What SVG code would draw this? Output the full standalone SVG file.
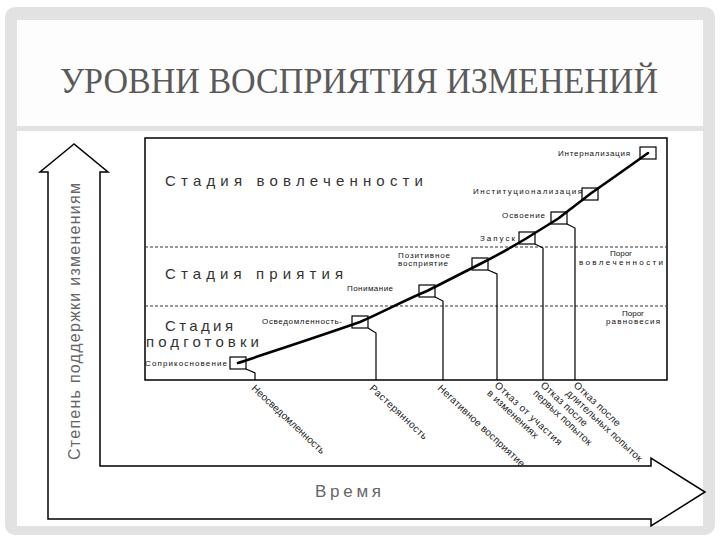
<svg xmlns="http://www.w3.org/2000/svg" width="720" height="540" viewBox="0 0 720 540">
<style>
.sans{font-family:"Liberation Sans",Arial,sans-serif}
.stage{font-family:"Liberation Sans",Arial,sans-serif;font-size:15px;fill:#333}
.lbl{font-family:"Liberation Sans",Arial,sans-serif;font-size:8px;fill:#111}
.rot{font-family:"Liberation Sans",Arial,sans-serif;font-size:10px;fill:#222}
.box{fill:#fff;stroke:#000;stroke-width:1.2}
.step{fill:none;stroke:#000;stroke-width:1.2}
.dash{stroke:#333;stroke-width:1;stroke-dasharray:3 2}
</style>
<rect x="0" y="0" width="720" height="540" fill="#fff"/>
<rect x="5" y="7" width="710" height="528" rx="10" fill="#e2e2e2"/>
<rect x="17" y="20" width="686" height="106" fill="#fdfdfd"/>
<rect x="17" y="131" width="686" height="395" fill="#fff"/>
<text x="60" y="93" font-family="'Liberation Serif','Times New Roman',serif" font-size="36" fill="#5a5a5a" textLength="598" lengthAdjust="spacingAndGlyphs">УРОВНИ ВОСПРИЯТИЯ ИЗМЕНЕНИЙ</text>

<g id="axes">
<path d="M74,144 L40,172 L48,172 L48,519 L651,519 L651,526 L705,492 L651,458 L651,466 L100,466 L100,172 L108,172 Z" fill="#fff" stroke="#000" stroke-width="1.5" stroke-linejoin="miter"/>
<text class="sans" transform="translate(80,460) rotate(-90)" font-size="16" fill="#666" textLength="277" lengthAdjust="spacing">Степень поддержки изменениям</text>
<text class="sans" x="315" y="497" font-size="17" fill="#666" textLength="66" lengthAdjust="spacing">Время</text>
</g>

<g id="chart">
<rect x="145" y="138" width="522" height="242" fill="#fff" stroke="#000" stroke-width="1.5"/>
<line class="dash" x1="145" y1="247" x2="667" y2="247"/>
<line class="dash" x1="145" y1="306" x2="667" y2="306"/>
<text class="stage" x="165" y="186" textLength="258" lengthAdjust="spacing">Стадия вовлеченности</text>
<text class="stage" x="165" y="279" textLength="178" lengthAdjust="spacing">Стадия приятия</text>
<text class="stage" x="165" y="331" font-size="14" textLength="68" lengthAdjust="spacing">Стадия</text>
<text class="stage" x="146" y="347" font-size="14" textLength="113" lengthAdjust="spacing">подготовки</text>
<text class="lbl" x="621" y="256" text-anchor="middle" font-size="10">Порог</text>
<text class="lbl" x="621" y="265" text-anchor="middle" font-size="9" textLength="84" lengthAdjust="spacing">вовлеченности</text>
<text class="lbl" x="633" y="316" text-anchor="middle">Порог</text>
<text class="lbl" x="633" y="324" text-anchor="middle" textLength="54" lengthAdjust="spacing">равновесия</text>
</g>

<g id="connectors">
<polyline class="step" points="246,369 255,373 255,380"/>
<polyline class="step" points="368,328 376,333 376,380"/>
<polyline class="step" points="435,297 443,301 443,380"/>
<polyline class="step" points="488,270 497,274 497,380"/>
<polyline class="step" points="535,244 543,248 543,380"/>
<polyline class="step" points="567,224 575,228 575,380"/>
</g>

<g id="n1"><rect class="box" x="230" y="357" width="16" height="12"/><text class="lbl" x="145" y="366" textLength="82" lengthAdjust="spacing">Соприкосновение</text></g>
<g id="n2"><rect class="box" x="352" y="316" width="16" height="12"/><text class="lbl" x="262" y="324" textLength="80" lengthAdjust="spacing">Осведомленность-</text></g>
<g id="n3"><rect class="box" x="419" y="285" width="16" height="12"/><text class="lbl" x="347" y="291" textLength="46" lengthAdjust="spacing">Понимание</text></g>
<g id="n4"><rect class="box" x="472" y="258" width="16" height="12"/><text class="lbl" x="398" y="258" textLength="52" lengthAdjust="spacing">Позитивное</text><text class="lbl" x="398" y="266" textLength="50" lengthAdjust="spacing">восприятие</text></g>
<g id="n5"><rect class="box" x="519" y="232" width="16" height="12"/><text class="lbl" x="480" y="241" textLength="35" lengthAdjust="spacing">Запуск</text></g>
<g id="n6"><rect class="box" x="551" y="212" width="16" height="12"/><text class="lbl" x="502" y="218" textLength="43" lengthAdjust="spacing">Освоение</text></g>
<g id="n7"><rect class="box" x="582" y="188" width="16" height="12"/><text class="lbl" x="473" y="194" textLength="109" lengthAdjust="spacing">Институционализация</text></g>
<g id="n8"><rect class="box" x="640" y="147" width="16" height="12"/><text class="lbl" x="558" y="156" textLength="72" lengthAdjust="spacing">Интернализация</text></g>

<g id="curve">
<path d="M238,363 C280,349 320,336 360,322 C385,311 405,300 427,291 C445,282 462,273 480,264 C496,256 512,247 527,238 C538,231 548,225 559,218 C569,210 580,202 590,194 C610,180 630,166 648,153" fill="none" stroke="#000" stroke-width="2.6" stroke-linecap="round"/>
</g>

<g id="bottom-labels">
<text class="rot" transform="translate(251,389) rotate(43)" textLength="96" lengthAdjust="spacing">Неосведомленность</text>
<text class="rot" transform="translate(369,389) rotate(43)" textLength="75" lengthAdjust="spacing">Растерянность</text>
<text class="rot" transform="translate(437,389) rotate(43)" textLength="115" lengthAdjust="spacing">Негативное восприятие</text>
<text class="rot" transform="translate(494,386) rotate(43)"><tspan x="0" y="0" textLength="88" lengthAdjust="spacing">Отказ от участия</tspan><tspan x="0" y="11" textLength="66" lengthAdjust="spacing">в изменениях</tspan></text>
<text class="rot" transform="translate(540,386) rotate(43)"><tspan x="0" y="0" textLength="60" lengthAdjust="spacing">Отказ после</tspan><tspan x="0" y="11" textLength="76" lengthAdjust="spacing">первых попыток</tspan></text>
<text class="rot" transform="translate(573,386) rotate(43)"><tspan x="0" y="0" textLength="60" lengthAdjust="spacing">Отказ после</tspan><tspan x="0" y="11" textLength="100" lengthAdjust="spacing">длительных попыток</tspan></text>
</g>
</svg>
